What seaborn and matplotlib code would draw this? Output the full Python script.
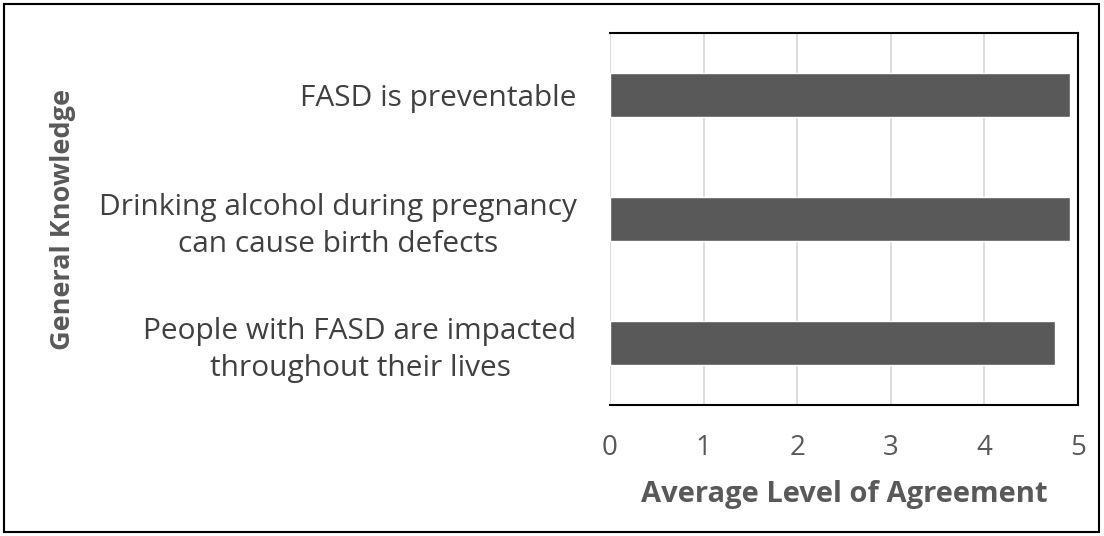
import matplotlib
matplotlib.use('Agg')
import matplotlib.pyplot as plt
import seaborn as sns
import pandas as pd
from matplotlib.patches import Rectangle

statements = [
    "FASD is preventable",
    "Drinking alcohol during pregnancy\ncan cause birth defects",
    "People with FASD are impacted\nthroughout their lives",
]
agreement = [4.91, 4.91, 4.75]
x_ticks = [0, 1, 2, 3, 4, 5]

df = pd.DataFrame({"Statement": statements, "Agreement": agreement})

sns.set_style("white")
plt.rcParams['font.family'] = ['Open Sans', 'DejaVu Sans']

fig = plt.figure(figsize=(11.04, 5.36), dpi=100)
ax = fig.add_axes([610 / 1104, 1 - 405 / 536, 468 / 1104, 372 / 536])

sns.barplot(data=df, x="Agreement", y="Statement", orient="h",
            color="#595959", width=0.355, saturation=1, ax=ax, zorder=3)

ax.set_xlim(0, 5)
ax.set_ylim(2.5, -0.5)
ax.set_xticks(x_ticks)
ax.xaxis.grid(True, color="#d9d9d9", linewidth=1.3, zorder=0)
ax.set_axisbelow(True)

for side in ['top', 'right', 'bottom']:
    ax.spines[side].set_color('black')
    ax.spines[side].set_linewidth(1.5)
ax.spines['left'].set_visible(False)

ax.tick_params(axis='x', length=0, pad=21, labelsize=20, labelcolor='#595959')
ax.tick_params(axis='y', length=0, pad=24, labelsize=21.5, labelcolor='#404040')
for lbl in ax.get_yticklabels():
    lbl.set_multialignment('center')
    lbl.set_linespacing(1.35)

ax.set_xlabel("Average Level of Agreement", fontsize=21, fontweight='bold',
              color='#595959', labelpad=13)
ax.set_ylabel("General Knowledge", fontsize=19.5, fontweight='bold', color='#595959')
ax.yaxis.set_label_coords(-1.14, 0.5)

fig.patches.append(Rectangle((4 / 1104, 4 / 536), 1095 / 1104, 528 / 536,
                             transform=fig.transFigure, fill=False,
                             edgecolor='black', linewidth=1.5))

fig.savefig("out.png", dpi=100)
